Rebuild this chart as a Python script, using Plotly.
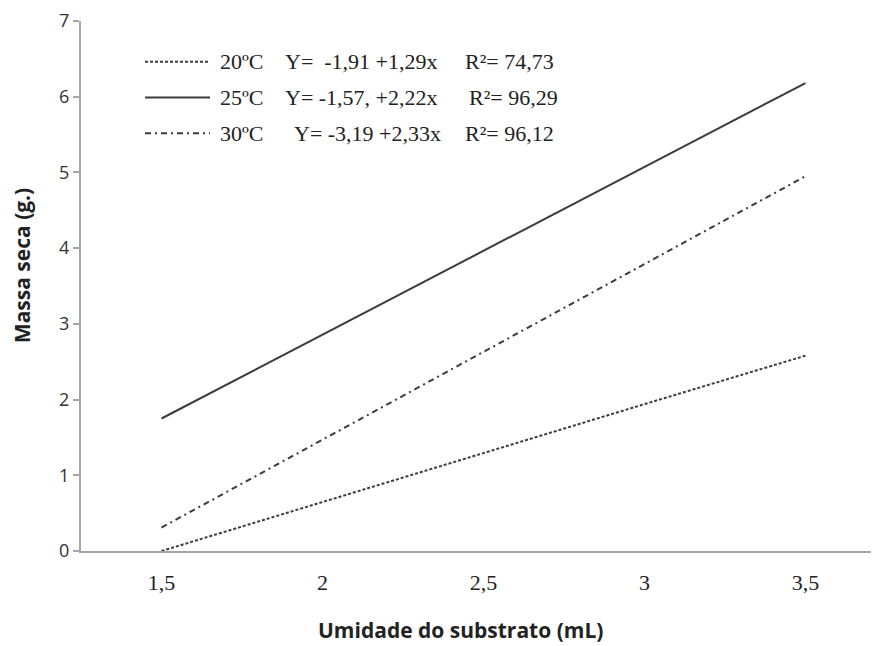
import plotly.graph_objects as go

categories = ["1,5", "2", "2,5", "3", "3,5"]
y_20 = [0.0, 0.65, 1.29, 1.94, 2.58]
y_25 = [1.75, 2.86, 3.97, 5.08, 6.18]
y_30 = [0.31, 1.47, 2.63, 3.79, 4.95]

series_names = ["20ºC", "25ºC", "30ºC"]
equations = ["Y=  -1,91 +1,29x", "Y= -1,57, +2,22x", "Y= -3,19 +2,33x"]
r2_labels = ["R²= 74,73", "R²= 96,29", "R²= 96,12"]
y_ticks = [0, 1, 2, 3, 4, 5, 6, 7]

LINE = "#3c3c3c"
AXIS = "#a6a6a6"
dashes = ["3px,2px", "solid", "6px,4px,2px,4px"]

# page body has an 8px margin; figure sized so that the window shows it like the reference
OFF = 8
W, H = 879 - OFF, 646 - OFF
L, T, B, R = 81 - OFF, 17 - OFF, 95, 0
pw, ph = W - L - R, H - T - B


def px(x):  # window pixel -> paper
    return (x - OFF - L) / pw


def py(y):
    return (H - B - (y - OFF)) / ph


fig = go.Figure()
for name, ys, d in zip(series_names, [y_20, y_25, y_30], dashes):
    fig.add_trace(go.Scatter(x=categories, y=ys, mode="lines", name=name,
                             line=dict(color=LINE, width=2, dash=d)))

shapes = []
annotations = []
row_y = [58, 94, 130]
eq_x = [283, 283, 292]
r2_x = [463, 467, 463]
for i in range(3):
    shapes.append(dict(type="line", xref="paper", yref="paper",
                       x0=px(145), x1=px(210), y0=py(row_y[i]), y1=py(row_y[i]),
                       line=dict(color=LINE, width=2, dash=dashes[i])))
    for txt, xx in [(series_names[i], 218), (equations[i], eq_x[i]), (r2_labels[i], r2_x[i])]:
        annotations.append(dict(text=txt, xref="paper", yref="paper", x=px(xx), y=py(row_y[i]),
                                xanchor="left", yanchor="middle", showarrow=False,
                                font=dict(family="Liberation Serif", size=22, color="#222")))

annotations.append(dict(text="<b>Massa seca (g.)</b>", xref="paper", yref="paper",
                        x=px(22), y=py(264), textangle=-90, showarrow=False,
                        xanchor="center", yanchor="middle",
                        font=dict(family="Open Sans", size=21, color="#222")))
annotations.append(dict(text="<b>Umidade do substrato (mL)</b>", xref="paper", yref="paper",
                        x=px(460), y=py(631), showarrow=False,
                        xanchor="center", yanchor="middle",
                        font=dict(family="Open Sans", size=21, color="#222")))

fig.update_layout(
    width=W, height=H,
    margin=dict(l=L, r=R, t=T, b=B),
    plot_bgcolor="white", paper_bgcolor="white",
    showlegend=False,
    shapes=shapes, annotations=annotations,
    xaxis=dict(type="category", categoryorder="array", categoryarray=categories,
               range=[-0.5, -0.5 + pw / 161.0],
               showline=True, linecolor=AXIS, linewidth=2, showgrid=False, zeroline=False,
               ticks="", ticklabelstandoff=11,
               tickfont=dict(family="Liberation Serif", size=22, color="#222")),
    yaxis=dict(range=[0, 7], tickvals=y_ticks, ticktext=[str(v) for v in y_ticks],
               showline=True, linecolor=AXIS, linewidth=2, showgrid=False, zeroline=False,
               ticks="outside", ticklen=6, tickcolor=AXIS, tickwidth=1.5,
               ticklabeloverflow="allow",
               tickfont=dict(family="Open Sans", size=18, color="#333")),
)

fig.write_html("out.html")
